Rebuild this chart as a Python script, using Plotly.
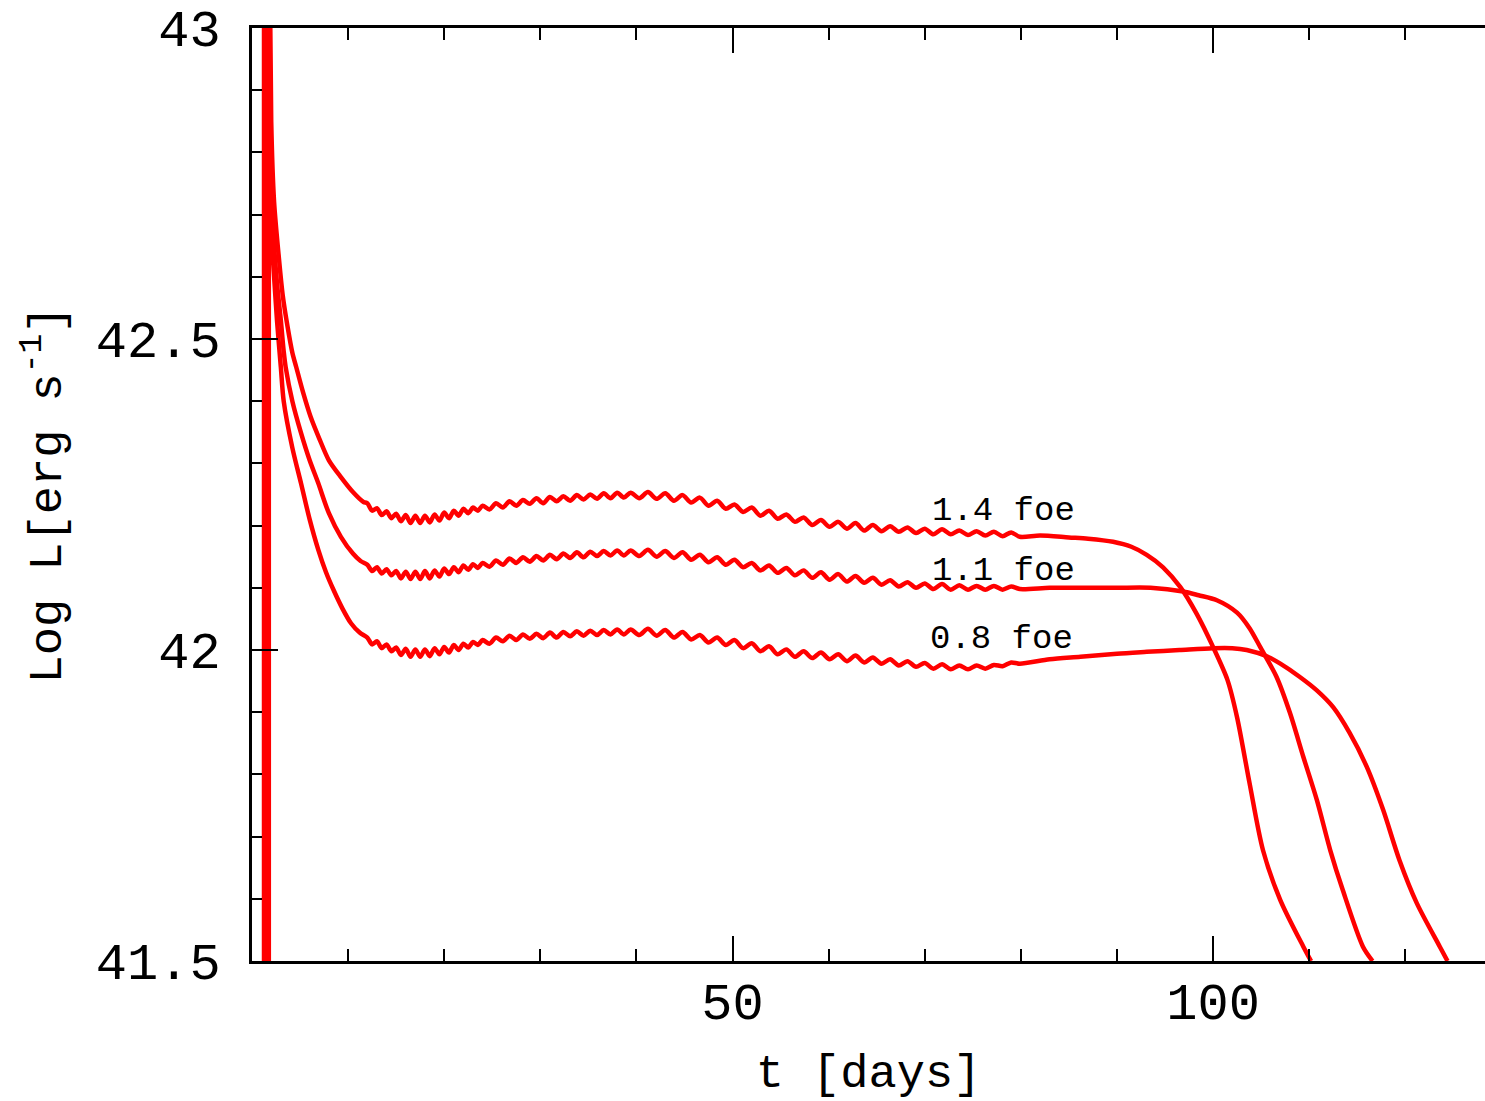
import plotly.graph_objects as go

# ---------------- data ----------------
labels = ["1.4 foe", "1.1 foe", "0.8 foe"]

# 1.4 foe
t_14 = [1.75, 1.75, 2.0, 2.3, 2.8, 3.2, 3.7, 4.2, 4.6, 5.3, 6.1, 7.0, 8.0, 9.25, 10.5, 11.6,
        12.0, 12.5, 13.0, 13.5, 14.0, 14.5, 15.0, 15.5, 16.0, 16.5, 17.0, 17.5, 18.0, 18.5,
        19.0, 19.5, 20.0, 20.5, 21.0, 21.5, 22.0, 22.5, 23.0, 23.5, 24.0,
        24.7, 25.4, 26.1, 26.8, 27.5, 28.2, 28.9, 29.6, 30.3, 31.0, 31.7, 32.4, 33.1, 33.8,
        34.5, 35.2, 35.9, 36.6, 37.3, 38.0, 38.7, 39.4,
        40.3, 41.2, 42.1, 43.0, 43.9, 44.8, 45.7, 46.6, 47.5, 48.4, 49.3, 50.2, 51.1, 52.0,
        52.9, 53.8, 54.7, 55.6, 56.5, 57.4, 58.3, 59.2, 60.1, 61.0, 61.9, 62.8, 63.7, 64.6,
        65.5, 66.4, 67.3, 68.2, 69.1, 70.0, 70.9, 71.8, 72.7, 73.6, 74.5, 75.4, 76.3, 77.2,
        78.1, 79.0, 79.9,
        82.0, 85.0, 87.0, 89.6, 91.5, 93.1, 94.8, 96.6, 98.3, 100.0, 101.5, 102.5, 103.8,
        105.2, 107.0, 109.4, 110.2]
L_14 = [41.0, 43.3, 42.85, 42.72, 42.63, 42.57, 42.52, 42.478, 42.455, 42.415, 42.375, 42.34,
        42.305, 42.278, 42.254, 42.238,
        42.236, 42.224, 42.228, 42.217, 42.223, 42.212, 42.219, 42.207, 42.217, 42.204, 42.216,
        42.204, 42.216, 42.205, 42.218, 42.208, 42.221, 42.212, 42.224, 42.216, 42.227, 42.220,
        42.229, 42.224, 42.232,
        42.226, 42.236, 42.229, 42.239, 42.232, 42.241, 42.235, 42.244, 42.236, 42.246, 42.239,
        42.247, 42.240, 42.249, 42.242, 42.250, 42.243, 42.252, 42.244, 42.253, 42.245, 42.253,
        42.244, 42.254, 42.243, 42.252, 42.240, 42.249, 42.237, 42.245, 42.232, 42.240, 42.227,
        42.234, 42.222, 42.229, 42.216, 42.224, 42.211, 42.218, 42.206, 42.213, 42.201, 42.209,
        42.198, 42.206, 42.195, 42.204, 42.192, 42.201, 42.191, 42.199, 42.190, 42.197, 42.188,
        42.195, 42.186, 42.194, 42.186, 42.192, 42.185, 42.191, 42.184, 42.190, 42.183, 42.189,
        42.182,
        42.184, 42.181, 42.179, 42.174, 42.166, 42.153, 42.133, 42.101, 42.058, 42.005, 41.952,
        41.892, 41.786, 41.678, 41.598, 41.523, 41.500]

# 1.1 foe
t_11 = [1.5, 1.5, 1.8, 2.1, 2.6, 3.0, 3.3, 3.5, 4.2, 5.1, 6.0, 6.9, 8.0, 9.25, 10.5, 11.3,
        12.0, 12.5, 13.0, 13.5, 14.0, 14.5, 15.0, 15.5, 16.0, 16.5, 17.0, 17.5, 18.0, 18.5,
        19.0, 19.5, 20.0, 20.5, 21.0, 21.5, 22.0, 22.5, 23.0, 23.5, 24.0,
        24.7, 25.4, 26.1, 26.8, 27.5, 28.2, 28.9, 29.6, 30.3, 31.0, 31.7, 32.4, 33.1, 33.8,
        34.5, 35.2, 35.9, 36.6, 37.3, 38.0, 38.7, 39.4,
        40.3, 41.2, 42.1, 43.0, 43.9, 44.8, 45.7, 46.6, 47.5, 48.4, 49.3, 50.2, 51.1, 52.0,
        52.9, 53.8, 54.7, 55.6, 56.5, 57.4, 58.3, 59.2, 60.1, 61.0, 61.9, 62.8, 63.7, 64.6,
        65.5, 66.4, 67.3, 68.2, 69.1, 70.0, 70.9, 71.8, 72.7, 73.6, 74.5, 75.4, 76.3, 77.2,
        78.1, 79.0, 79.9,
        83.0, 86.2, 90.0, 93.5, 96.9, 98.5, 100.4, 102.5, 103.8, 104.9, 106.6, 108.0, 109.4,
        110.8, 112.2, 113.5, 115.6, 116.6]
L_11 = [41.0, 43.3, 42.85, 42.70, 42.59, 42.53, 42.48, 42.455, 42.40, 42.349, 42.305, 42.268,
        42.22, 42.182, 42.155, 42.143,
        42.137, 42.127, 42.133, 42.123, 42.130, 42.120, 42.127, 42.115, 42.126, 42.114, 42.126,
        42.114, 42.127, 42.115, 42.128, 42.118, 42.131, 42.122, 42.133, 42.125, 42.136, 42.129,
        42.138, 42.132, 42.140,
        42.134, 42.144, 42.137, 42.147, 42.140, 42.149, 42.142, 42.151, 42.144, 42.153, 42.146,
        42.155, 42.148, 42.157, 42.149, 42.158, 42.151, 42.159, 42.152, 42.160, 42.152, 42.160,
        42.151, 42.161, 42.150, 42.159, 42.148, 42.157, 42.145, 42.153, 42.141, 42.149, 42.137,
        42.145, 42.133, 42.140, 42.128, 42.136, 42.124, 42.132, 42.120, 42.128, 42.116, 42.125,
        42.113, 42.122, 42.110, 42.119, 42.108, 42.116, 42.105, 42.112, 42.102, 42.109, 42.100,
        42.107, 42.098, 42.106, 42.097, 42.104, 42.097, 42.103, 42.097, 42.103, 42.097, 42.102,
        42.098,
        42.100, 42.100, 42.100, 42.100, 42.094, 42.088, 42.080, 42.060, 42.035, 42.005, 41.957,
        41.899, 41.828, 41.759, 41.678, 41.614, 41.523, 41.500]

# 0.8 foe
t_08 = [1.25, 1.25, 1.6, 1.9, 2.3, 2.6, 3.0, 3.3, 4.2, 5.1, 6.0, 6.9, 7.7, 8.5, 9.4, 10.3, 11.2,
        12.0, 12.5, 13.0, 13.5, 14.0, 14.5, 15.0, 15.5, 16.0, 16.5, 17.0, 17.5, 18.0, 18.5,
        19.0, 19.5, 20.0, 20.5, 21.0, 21.5, 22.0, 22.5, 23.0, 23.5, 24.0,
        24.7, 25.4, 26.1, 26.8, 27.5, 28.2, 28.9, 29.6, 30.3, 31.0, 31.7, 32.4, 33.1, 33.8,
        34.5, 35.2, 35.9, 36.6, 37.3, 38.0, 38.7, 39.4,
        40.3, 41.2, 42.1, 43.0, 43.9, 44.8, 45.7, 46.6, 47.5, 48.4, 49.3, 50.2, 51.1, 52.0,
        52.9, 53.8, 54.7, 55.6, 56.5, 57.4, 58.3, 59.2, 60.1, 61.0, 61.9, 62.8, 63.7, 64.6,
        65.5, 66.4, 67.3, 68.2, 69.1, 70.0, 70.9, 71.8, 72.7, 73.6, 74.5, 75.4, 76.3, 77.2,
        78.1, 79.0, 79.9,
        83.0, 86.2, 90.0, 93.1, 96.5, 100.0, 102.0, 103.5, 105.6, 107.0, 109.0, 110.8, 112.5,
        114.2, 116.0, 117.7, 119.4, 121.2, 123.6, 124.4]
L_08 = [41.0, 43.3, 42.85, 42.70, 42.60, 42.53, 42.455, 42.40, 42.325, 42.268, 42.21, 42.161,
        42.125, 42.096, 42.067, 42.043, 42.028,
        42.020, 42.009, 42.014, 42.003, 42.009, 41.998, 42.004, 41.992, 42.002, 41.989, 42.001,
        41.989, 42.001, 41.990, 42.003, 41.993, 42.005, 41.996, 42.008, 42.000, 42.010, 42.004,
        42.013, 42.008, 42.016,
        42.010, 42.020, 42.014, 42.023, 42.016, 42.025, 42.018, 42.026, 42.019, 42.028, 42.020,
        42.029, 42.022, 42.030, 42.023, 42.031, 42.024, 42.032, 42.025, 42.033, 42.025, 42.033,
        42.024, 42.034, 42.023, 42.032, 42.020, 42.029, 42.017, 42.024, 42.012, 42.020, 42.008,
        42.016, 42.003, 42.011, 41.998, 42.006, 41.993, 42.001, 41.989, 41.998, 41.987, 41.996,
        41.985, 41.993, 41.982, 41.991, 41.980, 41.988, 41.978, 41.985, 41.975, 41.982, 41.973,
        41.979, 41.970, 41.977, 41.969, 41.975, 41.969, 41.975, 41.970, 41.976, 41.974, 41.980,
        41.978,
        41.985, 41.989, 41.994, 41.997, 42.000, 42.003, 42.003, 42.000, 41.990, 41.978, 41.957,
        41.935, 41.908, 41.867, 41.812, 41.743, 41.662, 41.593, 41.523, 41.500]

# label positions (days, log L)
label_x = [70.6, 70.6, 70.3]
label_y = [42.224, 42.127, 42.018]

x_tickvals = [50, 100]
y_tickvals = [41.5, 42, 42.5, 43]
y_ticktext = ["41.5", "42", "42.5", "43"]

# ---------------- figure ----------------
RED = "#ff0000"
MONO = "Liberation Mono"

fig = go.Figure()
for tt, LL in [(t_14, L_14), (t_11, L_11), (t_08, L_08)]:
    fig.add_trace(go.Scatter(x=tt, y=LL, mode="lines",
                             line=dict(color=RED, width=4.5, shape="spline", smoothing=0.8),
                             showlegend=False, hoverinfo="skip"))

for lab, lx, ly in zip(labels, label_x, label_y):
    fig.add_annotation(x=lx, y=ly, text=lab, showarrow=False, xanchor="left",
                       yanchor="middle", font=dict(family=MONO, size=34, color="black"))

fig.update_layout(
    width=1485, height=1101,
    margin=dict(l=252, r=0, t=28, b=140),
    paper_bgcolor="white", plot_bgcolor="white",
    xaxis=dict(range=[0, 128.3], tickmode="array", tickvals=x_tickvals,
               ticks="inside", ticklen=25, tickwidth=2, tickcolor="black",
               showline=True, linecolor="black", linewidth=3, mirror="ticks",
               showgrid=False, zeroline=False, automargin=False,
               tickfont=dict(family=MONO, size=52, color="black"),
               ticklabelstandoff=-7,
               minor=dict(tickmode="linear", tick0=0, dtick=10, ticks="inside",
                          ticklen=12, tickwidth=2, tickcolor="black", showgrid=False),
               title=dict(text="t [days]", font=dict(family=MONO, size=47, color="black"),
                          standoff=35)),
    yaxis=dict(range=[41.5, 43], tickmode="array", tickvals=y_tickvals, ticktext=y_ticktext,
               ticks="inside", ticklen=26, tickwidth=2, tickcolor="black",
               showline=True, linecolor="black", linewidth=3, mirror=False,
               showgrid=False, zeroline=False, automargin=False,
               tickfont=dict(family=MONO, size=52, color="black"),
               ticklabelstandoff=18,
               minor=dict(tickmode="linear", tick0=41.5, dtick=0.1, ticks="inside",
                          ticklen=10, tickwidth=2, tickcolor="black", showgrid=False),
               title=dict(text="Log L[erg s<sup>-1</sup>]",
                          font=dict(family=MONO, size=47, color="black"), standoff=20)),
    yaxis2=dict(range=[41.5, 43], overlaying="y", side="right", tickmode="array",
                tickvals=y_tickvals, ticks="inside", ticklen=10, tickwidth=2,
                tickcolor="black", showticklabels=False, showline=False,
                showgrid=False, zeroline=False, automargin=False),
)

fig.write_html("out.html")
